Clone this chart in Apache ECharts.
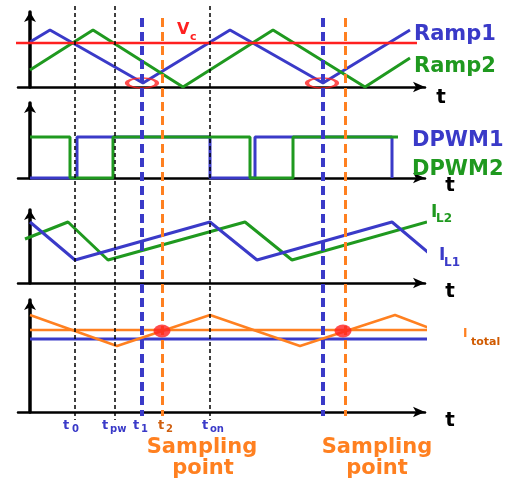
<!DOCTYPE html>
<html>
<head>
<meta charset="utf-8">
<script src="https://cdn.jsdelivr.net/npm/echarts@6/dist/echarts.min.js"></script>
<style>
  html, body { margin: 0; padding: 0; background: #fff; }
  #chart { width: 512px; height: 481px; }
</style>
</head>
<body>
<div id="chart"></div>
<script>
// time axis: 0 = vertical axis, same units in every panel
var ramp1 = [[0, 45], [20, 57], [113, 4], [200, 57], [293, 4], [380, 57]];
var ramp2 = [[0, 17], [63, 57], [153, 0], [243, 57], [335, 0], [380, 29]];
var vc = [[-20, 44], [387, 44]];
var ellipses = [[112, 4], [292, 4]];

var dpwm1 = [[0, 0], [47, 0], [47, 41], [180, 41], [180, 0], [225, 0], [225, 41], [362, 41], [362, 0]];
var dpwm2 = [[0, 41], [40, 41], [40, 0], [83, 0], [83, 41], [220, 41], [220, 0], [263, 0], [263, 41], [368, 41]];

var iL1 = [[0, 61], [45, 23], [180, 61], [227, 23], [362, 61], [407, 23]];
var iL2 = [[-5, 44], [38, 61], [78, 23], [215, 61], [262, 23], [397, 61]];

var iTotal = [[0, 97], [87, 66], [180, 97], [270, 66], [365, 97], [407, 81]];
var iTotalAvg = [[0, 82], [436, 82]];
var iRef = [[0, 73], [435, 73]];
var samplePts = [[132, 81], [313, 81]];

// vertical guides
var blackMarks = [45, 85, 180];
var blueMarks = [112, 293];
var orangeMarks = [132, 315];

var BLUE = '#3a3ac8', GREEN = '#1f991f', RED = '#ff2020', ORANGE = '#ff8020';
var FONT = '"DejaVu Sans"';

var chart = echarts.init(document.getElementById('chart'));

var panels = [
    {top: 12, height: 75},
    {top: 103, height: 75},
    {top: 210, height: 73},
    {top: 300, height: 112}
];

var grids = [], xAxes = [], yAxes = [];
panels.forEach(function (p, i) {
    grids.push({left: 18, right: 87, top: p.top, height: p.height});
    xAxes.push({
        type: 'value', gridIndex: i, min: -12, max: 395,
        axisLine: {show: true, symbol: ['none', 'arrow'], symbolSize: [8, 12], lineStyle: {color: '#000', width: 2.5}},
        axisTick: {show: false}, axisLabel: {show: false}, splitLine: {show: false}
    });
    yAxes.push({
        type: 'value', gridIndex: i, min: 0, max: p.height,
        axisLine: {show: true, onZero: true, symbol: ['none', 'arrow'], symbolSize: [9, 10], lineStyle: {color: '#000', width: 3.5}},
        axisTick: {show: false}, axisLabel: {show: false}, splitLine: {show: false}
    });
});
// overlay grid for the vertical guides
grids.push({left: 18, right: 87, top: 0, height: 481});
xAxes.push({type: 'value', gridIndex: 4, min: -12, max: 395, show: false});
yAxes.push({type: 'value', gridIndex: 4, min: 0, max: 481, inverse: true, show: false});

function line(data, idx, color, width, z) {
    return {
        type: 'line', xAxisIndex: idx, yAxisIndex: idx, data: data,
        showSymbol: false, clip: false, silent: true, z: z || 2,
        lineStyle: {color: color, width: width}
    };
}

function guides(ts, y0, y1, color, width, dash) {
    return {
        type: 'line', xAxisIndex: 4, yAxisIndex: 4, data: [], silent: true, z: 5,
        markLine: {
            silent: true, symbol: ['none', 'none'], animation: false,
            label: {show: false},
            lineStyle: {color: color, width: width, type: dash},
            data: ts.map(function (t) { return [{coord: [t, y0]}, {coord: [t, y1]}]; })
        }
    };
}

function txt(x, y, s, color, size, weight) {
    return {
        type: 'text', x: x, y: y, silent: true, z: 20,
        style: {text: s, fill: color, font: (weight || 'bold') + ' ' + size + 'px ' + FONT, align: 'left', verticalAlign: 'middle'}
    };
}

function ctxt(x, y, s, color, size) {
    var t = txt(x, y, s, color, size);
    t.style.align = 'center';
    return t;
}

var series = [
    line(ramp1, 0, BLUE, 3),
    line(ramp2, 0, GREEN, 3),
    line(vc, 0, RED, 2.5, 3),
    {
        type: 'scatter', xAxisIndex: 0, yAxisIndex: 0, data: ellipses, silent: true, z: 4,
        symbol: 'circle', symbolSize: [30, 10],
        itemStyle: {color: 'rgba(0,0,0,0)', borderColor: RED, borderWidth: 2.5}
    },
    line(dpwm1, 1, BLUE, 3),
    line(dpwm2, 1, GREEN, 3, 3),
    line(iL1, 2, BLUE, 3, 3),
    line(iL2, 2, GREEN, 3),
    line(iRef, 3, BLUE, 3),
    line(iTotalAvg, 3, ORANGE, 2.5),
    line(iTotal, 3, ORANGE, 2.5),
    {
        type: 'scatter', xAxisIndex: 3, yAxisIndex: 3, data: samplePts, silent: true, z: 6,
        symbol: 'circle', symbolSize: [17, 13],
        itemStyle: {color: RED}
    },
    guides(blackMarks, 6, 420, '#000', 1.5, [4, 3]),
    guides(blueMarks, 18, 416, BLUE, 4, [9, 5]),
    guides(orangeMarks, 18, 416, ORANGE, 3, [9, 5])
];

var texts = [
    txt(177, 30, 'V', RED, 16),
    txt(190, 37, 'c', RED, 11),
    txt(414, 35, 'Ramp1', BLUE, 21),
    txt(414, 67, 'Ramp2', GREEN, 21),
    ctxt(441, 98, 't', '#000', 20),
    txt(412, 141, 'DPWM1', BLUE, 21),
    txt(412, 170, 'DPWM2', GREEN, 21),
    ctxt(450, 186, 't', '#000', 20),
    txt(431, 213, 'I', GREEN, 17),
    txt(436, 219, 'L2', GREEN, 12),
    txt(439, 256, 'I', BLUE, 17),
    txt(444, 263, 'L1', BLUE, 12),
    ctxt(450, 292, 't', '#000', 20),
    txt(463, 334, 'I', ORANGE, 12),
    txt(471, 342, 'total', '#d05a00', 11),
    ctxt(450, 421, 't', '#000', 20),
    txt(63, 426, 't', BLUE, 13),
    txt(72, 429, '0', BLUE, 10),
    txt(102, 426, 't', BLUE, 13),
    txt(110, 429, 'pw', BLUE, 10),
    txt(133, 426, 't', BLUE, 13),
    txt(141, 429, '1', BLUE, 10),
    txt(158, 426, 't', '#d06010', 13),
    txt(166, 429, '2', '#d06010', 10),
    txt(202, 426, 't', BLUE, 13),
    txt(210, 429, 'on', BLUE, 10),
    ctxt(202, 448, 'Sampling', ORANGE, 21),
    ctxt(203, 469, 'point', ORANGE, 21),
    ctxt(377, 448, 'Sampling', ORANGE, 21),
    ctxt(377, 469, 'point', ORANGE, 21)
];

chart.setOption({
    animation: false,
    backgroundColor: '#fff',
    grid: grids,
    xAxis: xAxes,
    yAxis: yAxes,
    series: series,
    graphic: texts
});
</script>
</body>
</html>
